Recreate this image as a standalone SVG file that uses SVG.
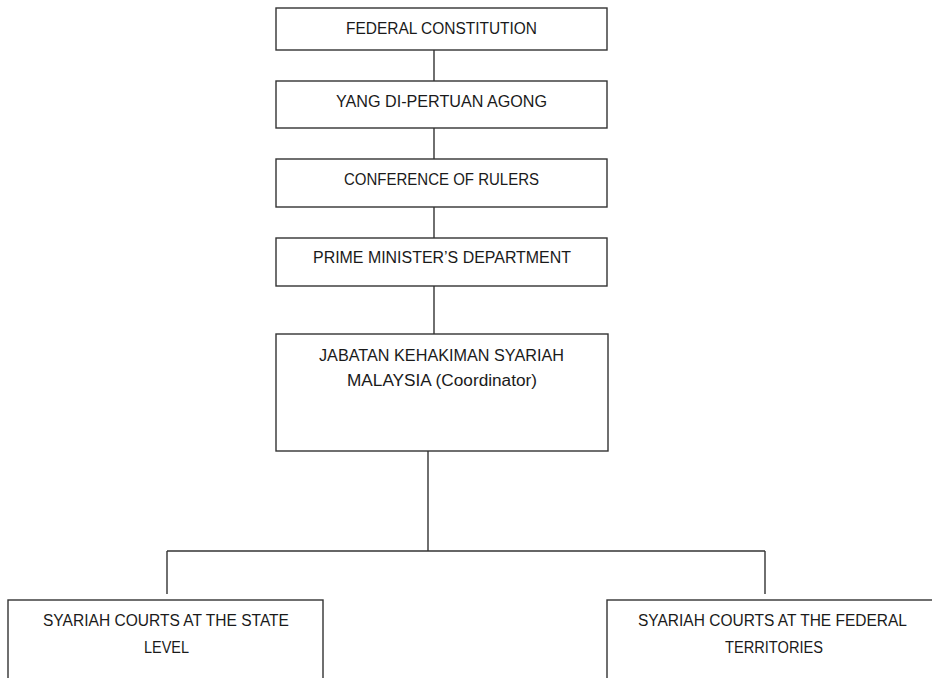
<svg xmlns="http://www.w3.org/2000/svg" width="932" height="678" viewBox="0 0 932 678">
<style>
.box{fill:#fff;stroke:#333;stroke-width:1.4}
.ln{fill:none;stroke:#333;stroke-width:1.4}
text{font-family:"Liberation Sans",Arial,sans-serif;font-size:16px;fill:#1a1a1a;text-anchor:middle}
</style>
<rect width="932" height="678" fill="#fff"/>
<g id="connectors">
<line class="ln" x1="434" y1="50" x2="434" y2="81"/>
<line class="ln" x1="434" y1="128" x2="434" y2="159"/>
<line class="ln" x1="434" y1="207" x2="434" y2="238"/>
<line class="ln" x1="434" y1="286" x2="434" y2="340"/>
<line class="ln" x1="428" y1="451" x2="428" y2="551"/>
<line class="ln" x1="167" y1="551" x2="765" y2="551"/>
<line class="ln" x1="167" y1="551" x2="167" y2="594"/>
<line class="ln" x1="765" y1="551" x2="765" y2="594"/>
</g>
<g id="n1"><rect class="box" x="276" y="8" width="331" height="42"/><text x="441.5" y="34" textLength="191" lengthAdjust="spacingAndGlyphs">FEDERAL CONSTITUTION</text></g>
<g id="n2"><rect class="box" x="276" y="81" width="331" height="47"/><text x="441.5" y="107" textLength="211" lengthAdjust="spacingAndGlyphs">YANG DI-PERTUAN AGONG</text></g>
<g id="n3"><rect class="box" x="276" y="159" width="331" height="48"/><text x="441.5" y="185" textLength="195" lengthAdjust="spacingAndGlyphs">CONFERENCE OF RULERS</text></g>
<g id="n4"><rect class="box" x="276" y="238" width="331" height="48"/><text x="442" y="263" textLength="258" lengthAdjust="spacingAndGlyphs">PRIME MINISTER’S DEPARTMENT</text></g>
<g id="n5"><rect class="box" x="276" y="334" width="332" height="117"/><text x="441.5" y="361" textLength="245" lengthAdjust="spacingAndGlyphs">JABATAN KEHAKIMAN SYARIAH</text><text x="442" y="386" textLength="190" lengthAdjust="spacingAndGlyphs">MALAYSIA (Coordinator)</text></g>
<g id="n6"><rect class="box" x="8" y="600" width="315" height="90"/><text x="166" y="626" textLength="246" lengthAdjust="spacingAndGlyphs">SYARIAH COURTS AT THE STATE</text><text x="166.5" y="653" textLength="45" lengthAdjust="spacingAndGlyphs">LEVEL</text></g>
<g id="n7"><rect class="box" x="607" y="600" width="340" height="90"/><text x="772.5" y="626" textLength="269" lengthAdjust="spacingAndGlyphs">SYARIAH COURTS AT THE FEDERAL</text><text x="774" y="653" textLength="98" lengthAdjust="spacingAndGlyphs">TERRITORIES</text></g>
</svg>
